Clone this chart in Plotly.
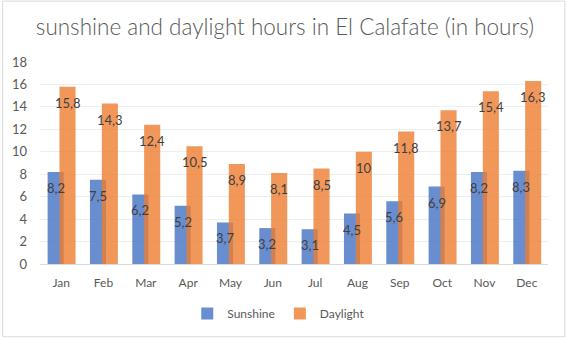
import plotly.graph_objects as go

months = ["Jan", "Feb", "Mar", "Apr", "May", "Jun", "Jul", "Aug", "Sep", "Oct", "Nov", "Dec"]
sunshine = [8.2, 7.5, 6.2, 5.2, 3.7, 3.2, 3.1, 4.5, 5.6, 6.9, 8.2, 8.3]
daylight = [15.8, 14.3, 12.4, 10.5, 8.9, 8.1, 8.5, 10, 11.8, 13.7, 15.4, 16.3]

def fmt(v):
    s = f"{v:g}"
    return s.replace(".", ",")

W = 0.38
OFF_S = -0.32
OFF_D = -0.04
FONT = "Lato"

fig = go.Figure()
fig.add_trace(go.Bar(x=months, y=sunshine, name="Sunshine", width=W, offset=OFF_S,
                     marker=dict(color="rgba(68,114,196,0.8)", line=dict(width=0))))
fig.add_trace(go.Bar(x=months, y=daylight, name="Daylight", width=W, offset=OFF_D,
                     marker=dict(color="rgba(237,125,49,0.8)", line=dict(width=0))))

ann = []
for i, (s, d) in enumerate(zip(sunshine, daylight)):
    ann.append(dict(x=i + OFF_S + W / 2, y=s, text=fmt(s), showarrow=False, yshift=-16,
                    xref="x", yref="y", font=dict(family=FONT, size=13, color="#404040")))
    ann.append(dict(x=i + OFF_D + W / 2, y=d, text=fmt(d), showarrow=False, yshift=-16,
                    xref="x", yref="y", font=dict(family=FONT, size=13, color="#404040")))

L, R, T, B = 38, 18, 62, 74
pw, ph = 566 - L - R, 340 - T - B

fig.update_layout(
    width=566, height=340,
    margin=dict(l=L, r=R, t=T, b=B),
    paper_bgcolor="white", plot_bgcolor="white",
    barmode="overlay",
    title=dict(text="sunshine and daylight hours in El Calafate (in hours)",
               x=285 / 566, xanchor="center", y=1 - 27 / 340, yanchor="middle", xref="container",
               font=dict(family=FONT, size=22.5, color="#595959", weight=300)),
    font=dict(family=FONT, size=12, color="#595959"),
    xaxis=dict(type="category", showgrid=False, showline=True, linecolor="#d9d9d9", linewidth=1,
               ticks="", ticklabelstandoff=8, tickfont=dict(size=12, color="#595959"),
               range=[-0.5, 11.5]),
    yaxis=dict(range=[0, 18], dtick=2, showgrid=True, gridcolor="#eeeeee", gridwidth=1,
               zeroline=False, showline=False, ticks="", ticklabelstandoff=12,
               tickfont=dict(size=13, color="#595959")),
    legend=dict(orientation="h", x=0.47, xanchor="center", y=-(316 - 266) / ph, yanchor="middle",
                font=dict(size=12, color="#595959"), itemwidth=30, traceorder="normal"),
    annotations=ann,
    shapes=[dict(type="rect", xref="paper", yref="paper",
                 x0=-L / pw + 0.5 / pw, x1=1 + (R - 1) / pw,
                 y0=-B / ph + 0.5 / ph, y1=1 + (T - 0.5) / ph,
                 line=dict(color="#d9d9d9", width=1))],
)

fig.write_html("out.html")
